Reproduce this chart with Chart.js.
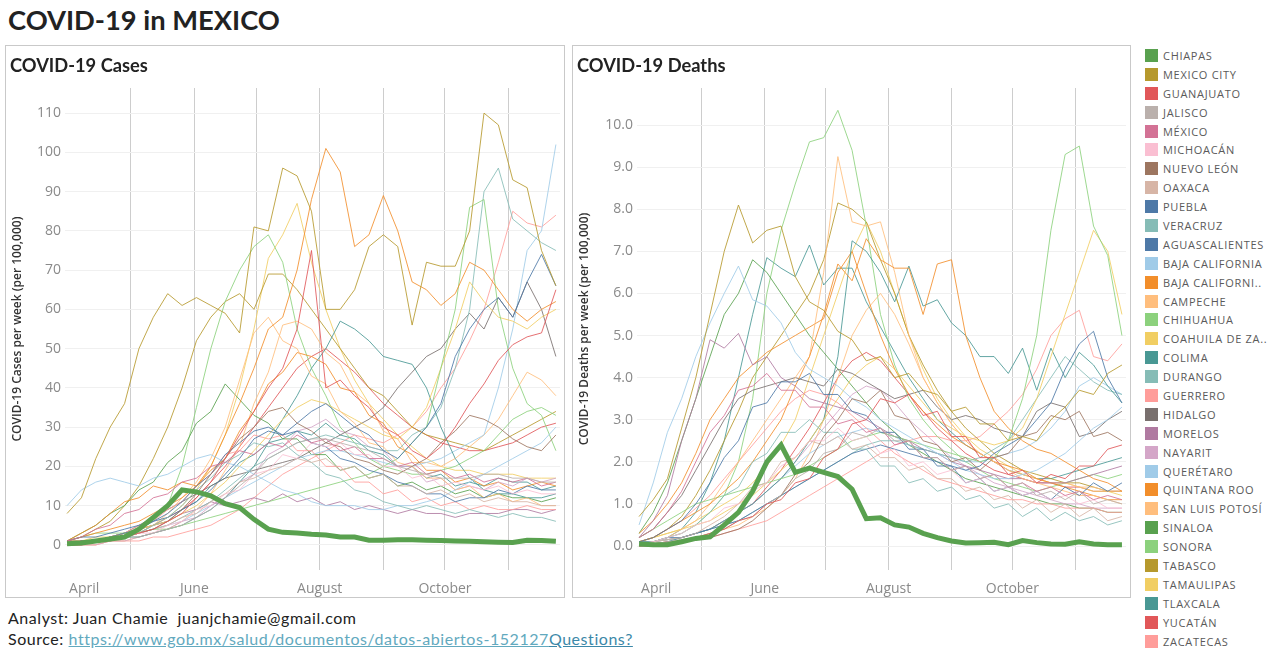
<!DOCTYPE html>
<html>
<head>
<meta charset="utf-8">
<title>COVID-19 in MEXICO</title>
<script src="https://cdn.jsdelivr.net/npm/chart.js@4.4.0/dist/chart.umd.min.js"></script>
<style>
  body { margin: 0; background: #fff; width: 1280px; height: 663px; overflow: hidden; position: relative; font-family: Lato, "Open Sans", sans-serif; color: #222; }
  #title { position: absolute; left: 8px; top: 3px; font-weight: bold; font-size: 27.3px; }
  .panel { position: absolute; top: 45px; height: 551px; border: 1px solid #c9c9c9; }
  .panel h2 { position: absolute; left: 4px; top: 8px; margin: 0; font-size: 18.3px; font-weight: bold; z-index: 2; }
  .panel canvas { position: absolute; left: 0; top: 0; }
  #legend { position: absolute; left: 1145px; top: 46px; }
  .item { height: 18.9px; display: flex; align-items: center; font-family: "Open Sans", sans-serif; font-size: 11px; color: #5a5a5a; letter-spacing: 0.7px; white-space: nowrap; }
  .sw { width: 13px; height: 13px; margin-right: 5px; flex: none; }
  .foot { position: absolute; left: 8px; font-size: 16px; letter-spacing: 0.55px; white-space: nowrap; }
  .foot a { color: #62a9be; text-decoration: underline; }
  .foot a.q { color: #3c88a8; }
</style>
</head>
<body>
<div id="title">COVID-19 in MEXICO</div>

<div class="panel" style="left:5px;width:558px"><h2>COVID-19 Cases</h2><canvas id="casesChart" width="558" height="551"></canvas></div>
<div class="panel" style="left:572px;width:557px"><h2>COVID-19 Deaths</h2><canvas id="deathsChart" width="557" height="551"></canvas></div>

<div id="legend"></div>

<div class="foot" style="top:608px">Analyst: Juan Chamie&nbsp; juanjchamie@gmail.com</div>
<div class="foot" style="top:629px">Source: <a href="#">https://www.gob.mx/salud/documentos/datos-abiertos-152127</a><a class="q" href="#">Questions?</a></div>

<script>
// ---- week starts (2020) ----
const weekStarts = ["03-31","04-07","04-14","04-21","04-28","05-05","05-12","05-19","05-26","06-02","06-09","06-16","06-23","06-30","07-07","07-14","07-21","07-28","08-04","08-11","08-18","08-25","09-01","09-08","09-15","09-22","09-29","10-06","10-13","10-20","10-27","11-03","11-10","11-17","11-24"];
const monthStarts = ["04-01","05-01","06-01","07-01","08-01","09-01","10-01","11-01"];
const monthLabels = ["April","","June","","August","","October",""];

const casesTicks = [0,10,20,30,40,50,60,70,80,90,100,110];
const deathsTicks = [0,1,2,3,4,5,6,7,8,9,10];

const stateNames = ["CHIAPAS","MEXICO CITY","GUANAJUATO","JALISCO","MÉXICO","MICHOACÁN","NUEVO LEÓN","OAXACA","PUEBLA","VERACRUZ","AGUASCALIENTES","BAJA CALIFORNIA","BAJA CALIFORNI..","CAMPECHE","CHIHUAHUA","COAHUILA DE ZA..","COLIMA","DURANGO","GUERRERO","HIDALGO","MORELOS","NAYARIT","QUERÉTARO","QUINTANA ROO","SAN LUIS POTOSÍ","SINALOA","SONORA","TABASCO","TAMAULIPAS","TLAXCALA","YUCATÁN","ZACATECAS"];

// ---- cases per week (per 100,000) ----
const casesChiapas = [0.3,0.5,1,1.5,2,4,7,10,14,13.5,12.5,10.5,9.5,6.5,4,3.2,3,2.7,2.5,2,2,1.2,1.2,1.3,1.3,1.2,1.1,1,0.9,0.8,0.7,0.6,1.2,1.1,0.9];
const casesMexicoCity = [8,12,22,30,36,50,58,64,61,63,61,59,54,81,80,96,94,85,60,60,65,76,79,76,56,72,71,71,80,110,107,93,91,75,66];
const casesGuanajuato = [0,0,1,1,2,3,4,6,8,12,16,22,28,34,40,45,55,75,40,42,38,35,30,28,24,22,25,30,36,41,47,51,53,54,65];
const casesJalisco = [0,0,1,1,2,2,3,4,5,7,9,12,15,18,22,24,26,27,27,26,25,24,22,20,19,18,17,17,17,18,18,17,17,16,16];
const casesMexico = [1,2,4,5,8,9,12,13,16,17,20,21,24,23,26,25,28,26,27,24,25,22,22,20,21,18,19,17,18,16,17,16,17,15,16];
const casesMichoacan = [0,0,1,1,2,3,3,5,6,9,10,13,14,18,19,23,22,26,25,26,23,23,20,20,17,18,15,16,15,14,15,13,14,13,13];
const casesNuevoLeon = [1,1,1,2,2,3,4,6,9,13,18,22,27,30,34,35,31,29,26,25,22,21,19,18,20,22,26,29,33,32,30,27,25,24,28];
const casesOaxaca = [0,0,1,1,2,3,4,5,7,8,11,13,16,17,19,20,22,21,22,19,20,17,18,15,15,13,14,12,13,11,12,11,11,10,10];
const casesPuebla = [0,1,1,2,3,4,6,8,11,15,18,23,26,29,30,28,29,26,25,22,21,19,18,16,15,13,13,11,12,12,14,13,15,14,14];
const casesVeracruz = [0,0,1,1,2,3,5,7,10,14,17,21,23,26,25,26,23,21,18,17,14,13,11,10,9,10,9,8,9,8,7,8,7,7,6];
const casesAguascalientes = [1,2,2,3,4,5,6,7,9,11,14,18,22,27,29,28,31,34,36,33,30,28,24,22,26,30,36,48,55,60,63,58,67,74,66];
const casesBajaCalifornia = [10,14,16,17,16,15,17,18,20,22,23,21,20,18,16,14,13,11,10,10,10,9,9,10,10,11,12,14,16,18,20,22,24,26,30];
const casesBajaCaliforniaSur = [1,2,3,4,5,6,8,10,12,15,20,28,36,45,55,58,70,88,101,95,76,79,89,80,67,65,61,64,72,70,65,60,57,60,62];
const casesCampeche = [0,0,1,1,2,3,5,8,12,16,22,30,42,54,58,52,50,43,41,34,31,26,25,21,20,17,17,14,15,12,13,11,12,10,10];
const casesChihuahua = [1,2,3,3,3,3,4,4,5,6,7,8,9,10,11,12,13,14,15,16,17,18,20,22,26,30,45,60,86,88,60,45,36,33,24];
const casesCoahuila = [1,1,2,2,3,4,5,6,8,10,13,16,20,24,28,32,35,37,36,34,32,30,28,27,30,35,45,55,67,62,58,57,55,58,60];
const casesColima = [0,1,1,1,2,2,3,4,5,7,9,12,16,20,26,32,38,45,50,57,55,52,48,47,46,40,30,22,17,14,13,13,12,12,13];
const casesDurango = [0,1,1,2,2,3,4,5,7,9,11,14,17,20,22,24,26,27,28,27,26,25,24,24,28,30,35,45,60,90,96,83,80,77,75];
const casesGuerrero = [0,1,1,2,3,5,6,9,11,15,18,23,24,28,27,28,24,24,20,20,16,16,13,14,11,12,10,11,9,10,9,9,10,9,9];
const casesHidalgo = [0,1,1,2,3,5,7,9,11,13,15,17,18,19,20,21,22,24,26,28,30,32,35,40,44,48,50,55,59,55,63,58,67,60,48];
const casesMorelos = [0,1,1,2,3,4,5,6,8,9,11,10,11,12,11,13,11,12,10,11,9,10,9,8,9,8,8,7,8,8,8,9,9,8,9];
const casesNayarit = [0,0,0,1,1,2,3,4,6,7,10,12,16,18,23,25,29,30,32,29,28,25,24,20,20,16,17,14,15,14,16,15,17,16,17];
const casesQueretaro = [0,1,1,2,2,3,4,5,6,8,10,12,14,16,18,20,22,23,24,24,23,22,21,20,20,21,22,24,26,28,40,55,75,80,102];
const casesQuintanaRoo = [1,3,5,8,11,12,15,14,16,15,19,22,29,34,41,44,49,48,46,40,39,33,31,25,23,19,19,16,17,15,16,14,15,16,15];
const casesSanLuis = [0,0,0,1,1,2,3,4,6,9,13,19,25,36,44,56,57,55,49,46,39,36,29,27,21,21,20,22,25,28,32,38,44,42,38];
const casesSinaloa = [1,3,5,8,10,14,16,21,24,31,34,41,37,33,31,27,27,23,23,19,20,17,18,15,16,14,15,13,14,12,13,12,12,11,12];
const casesSonora = [1,1,1,2,3,4,6,10,20,35,50,62,70,76,79,72,55,45,38,30,26,22,20,19,18,18,19,20,22,24,28,32,34,35,33];
const casesTabasco = [1,2,4,6,10,15,22,30,40,52,58,62,64,60,69,69,65,60,55,50,45,40,38,34,30,28,27,26,25,24,26,28,30,32,34];
const casesTamaulipas = [0,1,1,2,3,4,5,7,10,14,20,28,40,55,73,79,87,72,60,50,42,36,32,28,25,22,20,19,19,18,18,18,17,17,17];
const casesTlaxcala = [0,0,1,1,2,3,5,6,9,11,15,17,21,23,26,27,29,28,31,28,27,24,23,20,20,17,18,15,16,15,17,16,16,14,15];
const casesYucatan = [0,1,1,2,3,4,5,7,9,12,16,20,25,30,35,40,45,48,50,47,44,40,36,33,30,28,26,25,24,24,25,26,28,30,31];
const casesZacatecas = [0,0,0,1,1,1,2,2,3,4,5,7,9,12,15,18,20,22,24,26,28,27,26,28,30,34,40,45,52,60,72,85,82,81,84];

// ---- deaths per week (per 100,000) ----
const deathsChiapas = [0.05,0.03,0.03,0.1,0.18,0.22,0.5,0.8,1.3,2.0,2.4,1.75,1.85,1.75,1.65,1.35,0.65,0.67,0.5,0.45,0.3,0.2,0.12,0.07,0.08,0.09,0.03,0.13,0.08,0.05,0.04,0.1,0.05,0.03,0.03];
const deathsMexicoCity = [0.7,1.1,1.6,2.8,4.0,5.5,7.0,8.1,7.2,7.5,7.6,6.4,5.8,5.6,5.1,4.9,4.4,4.5,4.0,4.1,3.7,3.6,3.2,3.3,2.9,2.9,2.5,2.6,2.5,3.0,3.3,3.7,3.6,4.1,4.3];
const deathsGuanajuato = [0,0,0.05,0.1,0.2,0.3,0.4,0.6,0.7,1.0,1.1,1.5,1.6,2.1,2.3,2.9,3.0,3.5,3.4,3.6,3.1,3.2,2.6,2.6,2.1,2.1,1.7,1.8,1.5,1.7,1.6,1.9,1.9,2.3,2.4];
const deathsJalisco = [0,0.05,0.1,0.15,0.2,0.3,0.4,0.6,0.7,1.0,1.2,1.6,1.8,2.2,2.3,2.7,2.6,2.8,2.5,2.5,2.1,2.1,1.8,1.9,1.6,1.7,1.4,1.5,1.2,1.3,1.1,1.3,1.0,1.1,1.0];
const deathsMexico = [0.2,0.4,0.8,1.3,2.0,2.7,3.1,3.7,3.8,4.1,3.7,3.7,3.3,3.3,2.9,3.0,2.7,2.8,2.4,2.5,2.1,2.1,1.8,1.9,1.6,1.7,1.4,1.5,1.3,1.4,1.2,1.3,1.1,1.2,1.1];
const deathsMichoacan = [0.05,0.1,0.2,0.3,0.5,0.6,0.9,1.0,1.3,1.5,1.9,2.1,2.5,2.5,2.8,2.5,2.6,2.2,2.3,1.9,2.0,1.7,1.8,1.5,1.6,1.3,1.4,1.2,1.3,1.1,1.2,1.0,1.1,0.9,0.9];
const deathsNuevoLeon = [0.05,0.05,0.1,0.1,0.15,0.2,0.3,0.4,0.6,0.9,1.2,1.7,2.0,2.6,3.0,3.5,3.4,3.7,3.1,3.0,2.5,2.4,2.0,2.1,1.8,2.1,2.2,2.6,2.7,3.1,3.0,3.2,2.6,2.7,2.5];
const deathsOaxaca = [0.05,0.1,0.15,0.2,0.3,0.5,0.7,1.0,1.4,1.5,2.0,2.1,2.5,2.4,2.6,2.3,2.4,2.1,2.1,1.8,1.9,1.6,1.6,1.3,1.4,1.1,1.2,0.9,1.1,0.8,1.0,0.7,0.9,0.6,0.7];
const deathsPuebla = [0.1,0.2,0.4,0.6,1.0,1.5,2.1,2.5,3.3,3.4,3.9,3.9,4.1,3.6,3.6,3.2,3.1,2.7,2.7,2.3,2.3,1.9,1.9,1.5,1.6,1.3,1.4,1.2,1.3,1.1,1.4,1.2,1.5,1.3,1.5];
const deathsVeracruz = [0.05,0.1,0.2,0.3,0.5,0.8,1.2,1.4,2.0,2.2,2.7,2.7,3.0,2.7,2.7,2.3,2.3,1.9,1.9,1.5,1.6,1.3,1.4,1.1,1.2,0.9,1.0,0.7,0.9,0.6,0.8,0.6,0.7,0.5,0.6];
const deathsAguascalientes = [0.1,0.1,0.2,0.2,0.3,0.4,0.5,0.6,0.8,1.0,1.2,1.4,1.6,1.8,2.0,2.2,2.3,2.4,2.3,2.2,2.1,2.0,1.9,1.8,1.9,2.2,2.4,2.6,3.0,3.4,4.2,4.8,5.1,4.0,3.4];
const deathsBajaCalifornia = [0.5,1.5,2.7,3.5,4.5,5.3,6.0,6.65,5.85,5.7,5.3,4.6,4.2,4.0,3.8,3.5,3.3,3.0,2.8,2.6,2.4,2.2,2.0,1.8,1.7,1.6,1.6,1.7,1.8,2.0,2.2,2.5,2.8,3.0,3.3];
const deathsBajaCaliforniaSur = [0.1,0.2,0.4,0.6,0.8,1.0,1.3,1.6,2.0,2.5,3.0,3.8,4.5,5.5,6.7,6.3,7.3,6.8,6.6,6.6,5.5,6.7,6.8,5.0,4.0,3.2,2.8,2.5,2.3,2.2,2.0,1.8,1.6,1.5,1.3];
const deathsCampeche = [0,0.1,0.2,0.4,0.6,1.0,1.5,2.0,2.5,3.0,3.5,4.0,4.5,6.5,9.25,7.7,7.6,7.7,6.5,5.0,4.0,3.4,2.9,2.5,2.2,2.0,1.8,1.6,1.5,1.4,1.3,1.2,1.2,1.1,1.0];
const deathsChihuahua = [0.2,0.4,0.6,0.8,1.0,1.1,1.2,1.3,1.4,1.5,1.6,1.7,1.9,2.1,2.3,2.5,2.6,2.7,2.6,2.5,2.4,2.3,2.2,2.1,2.0,2.1,2.5,3.5,5.0,7.5,9.3,9.5,7.6,6.9,5.0];
const deathsCoahuila = [0.1,0.2,0.3,0.4,0.5,0.6,0.8,1.0,1.2,1.5,1.8,2.1,2.5,3.0,3.5,4.0,4.3,4.5,4.2,3.8,3.4,3.0,2.8,2.6,2.5,2.4,2.5,2.8,3.5,4.5,5.5,6.5,7.5,7.0,5.5];
const deathsColima = [0,0,0.1,0.2,0.3,0.4,0.6,0.8,1.0,1.3,1.6,2.0,2.5,3.0,4.5,7.25,7.0,6.5,5.8,6.65,5.7,5.85,5.3,5.0,4.5,4.5,4.1,4.7,3.7,4.7,4.0,4.6,4.3,3.8,3.4];
const deathsDurango = [0.05,0.1,0.15,0.2,0.3,0.4,0.5,0.6,0.8,1.0,1.2,1.4,1.6,1.8,2.0,2.2,2.4,2.5,2.5,2.4,2.3,2.2,2.1,2.0,2.1,2.3,2.5,3.0,3.5,4.0,4.5,4.2,3.9,3.7,3.6];
const deathsGuerrero = [0.1,0.2,0.4,0.6,0.9,1.2,1.6,2.0,2.4,2.8,3.2,3.5,3.7,3.6,3.4,3.1,2.8,2.5,2.2,2.0,1.8,1.6,1.5,1.4,1.3,1.2,1.1,1.1,1.0,1.0,0.9,0.9,0.9,0.8,0.8];
const deathsHidalgo = [0.2,0.4,0.8,1.2,1.8,2.4,3.0,3.5,3.7,3.8,3.9,4.0,3.9,3.8,4.2,4.1,3.9,3.7,3.5,3.6,3.7,3.3,3.0,3.1,3.0,2.8,2.7,2.6,3.2,3.4,3.3,2.6,2.7,3.0,3.2];
const deathsMorelos = [0.2,0.6,1.2,2.5,3.5,4.9,4.7,5.05,4.3,4.5,4.0,3.8,3.5,3.4,3.3,3.2,3.0,2.8,2.6,2.5,2.3,2.2,2.0,1.9,1.8,1.7,1.6,1.6,1.5,1.5,1.5,1.6,1.7,1.8,1.9];
const deathsNayarit = [0,0.05,0.1,0.2,0.3,0.4,0.6,0.8,1.0,1.3,1.6,2.0,2.4,2.8,3.2,3.6,3.8,3.7,3.4,3.0,2.7,2.4,2.1,1.9,1.7,1.5,1.4,1.3,1.2,1.1,1.0,1.0,0.9,0.9,0.9];
const deathsQueretaro = [0.05,0.1,0.15,0.2,0.3,0.4,0.6,0.8,1.0,1.3,1.6,1.9,2.2,2.4,2.6,2.7,2.8,2.7,2.6,2.4,2.3,2.2,2.1,2.0,2.0,2.1,2.2,2.3,2.5,2.8,3.2,3.8,4.0,3.8,3.6];
const deathsQuintanaRoo = [0.3,0.6,1.0,1.5,2.2,3.0,3.5,4.0,4.3,4.6,4.8,5.0,5.2,5.4,6.5,7.0,6.0,5.0,4.2,3.6,3.2,2.9,2.6,2.4,2.2,2.0,1.9,1.8,1.6,1.5,1.4,1.3,1.2,1.1,1.1];
const deathsSanLuis = [0,0.05,0.1,0.15,0.2,0.3,0.4,0.5,0.7,0.9,1.2,1.6,2.2,3.0,4.0,5.0,5.6,6.0,5.5,4.8,4.0,3.4,2.9,2.5,2.2,2.0,1.8,1.7,1.6,1.5,1.5,1.4,1.4,1.3,1.3];
const deathsSinaloa = [0.3,0.8,1.5,2.5,3.5,4.5,5.5,6.0,6.8,6.5,6.0,5.5,5.0,4.6,4.2,3.8,3.4,3.0,2.7,2.4,2.2,2.0,1.8,1.6,1.5,1.4,1.3,1.2,1.1,1.0,1.0,0.9,0.9,0.8,0.8];
const deathsSonora = [0.1,0.1,0.2,0.3,0.5,0.8,1.2,2.0,3.5,6.0,7.5,8.6,9.6,9.7,10.35,9.4,7.6,5.5,4.3,3.5,3.0,2.6,2.3,2.0,1.8,1.6,1.5,1.4,1.3,1.4,1.5,1.6,1.7,1.6,1.7];
const deathsTabasco = [0.1,0.2,0.4,0.7,1.2,1.8,2.5,3.2,4.0,4.5,5.0,5.5,6.0,6.8,8.15,8.0,7.7,6.8,6.0,5.0,4.3,3.7,3.2,2.8,2.5,2.2,2.0,1.8,1.7,1.6,1.5,1.5,1.4,1.3,1.3];
const deathsTamaulipas = [0.1,0.2,0.3,0.4,0.6,0.8,1.0,1.2,1.5,1.9,2.4,3.0,4.0,5.0,6.0,7.0,7.7,7.0,6.0,5.0,4.2,3.5,3.0,2.6,2.3,2.1,1.9,1.7,1.6,1.5,1.5,1.4,1.3,1.3,1.2];
const deathsTlaxcala = [0,0.1,0.2,0.4,0.8,1.5,2.5,4.0,5.5,6.85,6.6,6.4,7.15,6.2,6.6,6.6,5.8,5.2,4.6,4.0,3.5,3.0,2.7,2.4,2.2,2.0,1.8,1.7,1.6,1.6,1.7,1.8,1.9,2.0,2.1];
const deathsYucatan = [0.05,0.1,0.15,0.2,0.3,0.4,0.6,0.8,1.0,1.4,1.8,2.3,2.8,3.4,4.0,4.4,4.6,4.4,4.0,3.6,3.2,2.8,2.5,2.2,2.0,1.8,1.7,1.6,1.5,1.5,1.4,1.4,1.3,1.3,1.3];
const deathsZacatecas = [0,0.05,0.1,0.1,0.15,0.2,0.3,0.4,0.5,0.6,0.8,1.0,1.2,1.4,1.6,1.8,2.0,2.2,2.4,2.5,2.6,2.6,2.5,2.5,2.6,2.9,3.2,3.6,4.2,5.0,5.4,5.6,4.5,4.4,4.8];

const casesSeries = [casesChiapas, casesMexicoCity, casesGuanajuato, casesJalisco, casesMexico, casesMichoacan, casesNuevoLeon, casesOaxaca, casesPuebla, casesVeracruz, casesAguascalientes, casesBajaCalifornia, casesBajaCaliforniaSur, casesCampeche, casesChihuahua, casesCoahuila, casesColima, casesDurango, casesGuerrero, casesHidalgo, casesMorelos, casesNayarit, casesQueretaro, casesQuintanaRoo, casesSanLuis, casesSinaloa, casesSonora, casesTabasco, casesTamaulipas, casesTlaxcala, casesYucatan, casesZacatecas];
const deathsSeries = [deathsChiapas, deathsMexicoCity, deathsGuanajuato, deathsJalisco, deathsMexico, deathsMichoacan, deathsNuevoLeon, deathsOaxaca, deathsPuebla, deathsVeracruz, deathsAguascalientes, deathsBajaCalifornia, deathsBajaCaliforniaSur, deathsCampeche, deathsChihuahua, deathsCoahuila, deathsColima, deathsDurango, deathsGuerrero, deathsHidalgo, deathsMorelos, deathsNayarit, deathsQueretaro, deathsQuintanaRoo, deathsSanLuis, deathsSinaloa, deathsSonora, deathsTabasco, deathsTamaulipas, deathsTlaxcala, deathsYucatan, deathsZacatecas];

// tableau 20, in legend order
const stateColors = ["#59A14F","#B6992D","#E15759","#BAB0AC","#D37295","#FABFD2","#9D7660","#D7B5A6","#4E79A7","#86BCB6","#4E79A7","#A0CBE8","#F28E2B","#FFBE7D","#8CD17D","#F1CE63","#499894","#86BCB6","#FF9D9A","#79706E","#B07AA1","#D4A6C8","#A0CBE8","#F28E2B","#FFBE7D","#59A14F","#8CD17D","#B6992D","#F1CE63","#499894","#E15759","#FF9D9A"];

function dayOfYear(mmdd) {
  const [m, d] = mmdd.split("-").map(Number);
  return Math.round((Date.UTC(2020, m - 1, d) - Date.UTC(2020, 0, 1)) / 864e5) + 1;
}
const weekDays = weekStarts.map(dayOfYear);
const monthDays = monthStarts.map(dayOfYear);

// thin lines are a little washed out in the original
function soften(hex, a) {
  const n = parseInt(hex.slice(1), 16);
  return `rgba(${n >> 16},${(n >> 8) & 255},${n & 255},${a})`;
}

Chart.defaults.font.family = "'Open Sans', sans-serif";

function makeChart(id, series, yMin, yMax, yTicks, yTitle, axisWidth, fmt) {
  const datasets = series.map((vals, i) => ({
    label: stateNames[i],
    data: weekDays.map((d, j) => ({ x: d, y: vals[j] })),
    borderColor: i === 0 ? stateColors[0] : soften(stateColors[i], 0.85),
    borderWidth: i === 0 ? 5 : 1,
    pointRadius: 0,
    tension: 0,
    fill: false,
  }));
  return new Chart(document.getElementById(id), {
    type: "line",
    data: { datasets },
    options: {
      responsive: false,
      animation: false,
      layout: { padding: { top: 42, right: 4 } },
      plugins: { legend: { display: false }, tooltip: { enabled: false } },
      scales: {
        x: {
          type: "linear", min: 90, max: 331,
          afterBuildTicks: s => { s.ticks = monthDays.map(v => ({ value: v })); },
          afterFit: s => { s.height = 27; },
          grid: { color: c => (c.index === 0 ? "rgba(0,0,0,0)" : "#cdcdcd"), drawTicks: false },
          border: { display: false },
          ticks: { align: "inner", padding: 11, color: "#8a8a8a", font: { size: 14 }, maxRotation: 0, autoSkip: false,
                   callback: (v, i) => monthLabels[i] },
        },
        y: {
          min: yMin, max: yMax,
          afterBuildTicks: s => { s.ticks = yTicks.map(v => ({ value: v })); },
          afterFit: s => { s.width = axisWidth; },
          grid: { color: "#f0f0f0", drawTicks: false },
          border: { display: false },
          ticks: { padding: 4, color: "#8a8a8a", font: { size: 14 }, callback: fmt },
          title: { display: true, text: yTitle, color: "#333", font: { size: 12, weight: "600" }, padding: { top: 4, bottom: 0 } },
        },
      },
    },
  });
}

makeChart("casesChart", casesSeries, -6.4, 116.4, casesTicks, "COVID-19 Cases per week (per 100,000)", 59, v => String(v));
makeChart("deathsChart", deathsSeries, -0.57, 10.88, deathsTicks, "COVID-19 Deaths per week (per 100,000)", 64, v => v.toFixed(1));

// ---- legend ----
const legendEl = document.getElementById("legend");
stateNames.forEach((name, i) => {
  const row = document.createElement("div");
  row.className = "item";
  const sw = document.createElement("span");
  sw.className = "sw";
  sw.style.background = stateColors[i];
  row.appendChild(sw);
  row.appendChild(document.createTextNode(name));
  legendEl.appendChild(row);
});
</script>
</body>
</html>
